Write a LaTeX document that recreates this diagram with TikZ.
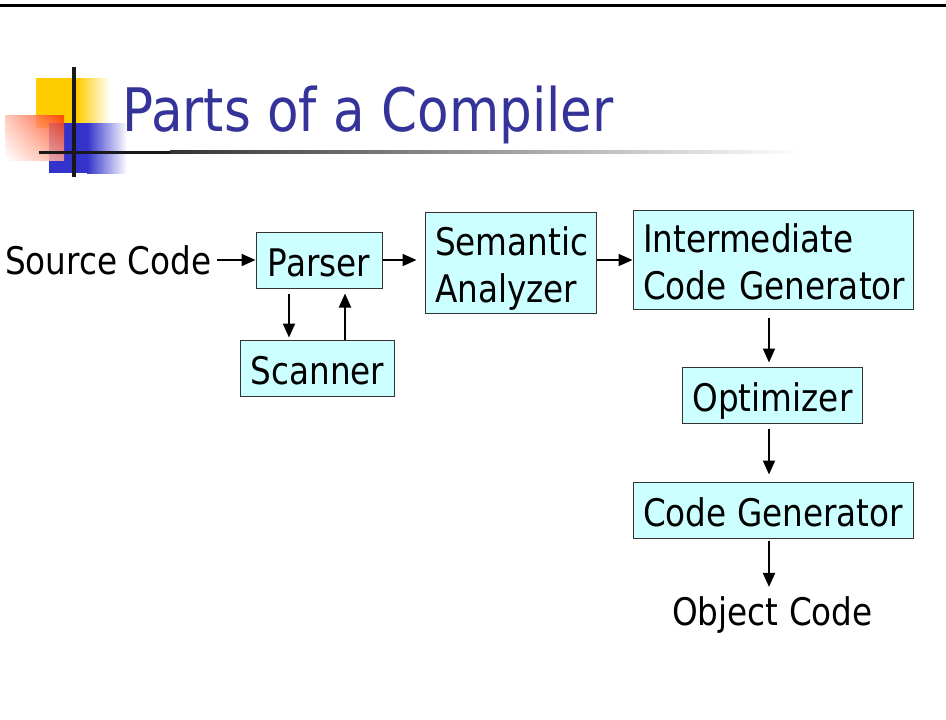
\documentclass[tikz,border=0pt]{standalone}
\usepackage{fontspec}
\setmainfont{DejaVu Sans}[FakeStretch=0.86]
\usetikzlibrary{arrows.meta,calc,shadings}
\definecolor{slidetitle}{HTML}{333399}
\definecolor{boxfill}{HTML}{CCFFFF}
\definecolor{logoyellow}{HTML}{FFCC00}
\definecolor{logoblue}{HTML}{3333CC}
\definecolor{logored}{HTML}{FF3300}

\begin{document}
\begin{tikzpicture}[x=1pt, y=-1pt,
  box/.style={draw=black!80, fill=boxfill, line width=1pt, inner xsep=10pt, inner ysep=0pt, font=\fontsize{38}{46.5}\selectfont},
  stage/.style={box, text height=32pt, text depth=0pt},
  plain/.style={inner sep=0pt, font=\fontsize{38}{46.5}\selectfont},
  flow/.style={-{Triangle[length=14pt,width=12pt]}, line width=2pt},
]
% Slide area in pixels, y downwards
\useasboundingbox (0,0) rectangle (946,720);
\fill[black] (0,4) rectangle (946,7);
% Logo squares
\fill[logoyellow] (36,78) rectangle (77,128);
\shade[left color=logoyellow, right color=white] (77,78) rectangle (110,128);
\fill[logoblue] (49,123) rectangle (87,173);
\shade[left color=logoblue, right color=white] (87,123) rectangle (127,173);
\shade[opacity=0.85, upper right=logored, upper left=logored!30, lower right=logored!45, lower left=white] (5,115) rectangle (64,160);
\fill[black!90] (72,67) rectangle (75.5,177);
\fill[black!90] (39,150.5) rectangle (170,153.5);
\shade[left color=black!80, right color=white] (170,150.5) rectangle (800,153.5);
\node[anchor=base west, inner sep=0pt, text=slidetitle, font=\fontsize{60}{72}\selectfont] (title) at (122,131) {Parts of a Compiler};

% Compiler stages
\node[plain, anchor=base east] (src) at (211.5,274) {Source Code};
\node[stage, minimum width=126pt, minimum height=56pt] (parser) at (319,260) {Parser};
\node[stage, minimum width=153pt, minimum height=56pt] (scanner) at (317.5,368) {Scanner};
\node[box, minimum width=171pt, minimum height=101pt, text width=151pt, text height=40.5pt, align=left] (semantic) at (510.5,262.5) {Semantic\\Analyzer};
\node[box, minimum width=280pt, minimum height=99pt, text width=260pt, text height=33.5pt, align=left] (inter) at (773,259.5) {Intermediate\\\mbox{Code Generator}};
\node[stage, minimum width=179pt, minimum height=56pt] (optim) at (772.5,395) {Optimizer};
\node[stage, minimum width=280pt, minimum height=56pt] (codegen) at (773,510) {Code Generator};
\node[plain, anchor=base] (object) at (772.5,625) {Object Code};

\draw[flow, shorten <=5pt] (src.east |- parser.west) -- (parser.west);
\draw[flow, shorten >=8pt] (parser.east) -- (parser.east -| semantic.west);
\draw[flow] (semantic.east |- parser.east) -- (parser.east -| inter.west);
\draw[flow, shorten <=5pt, shorten >=2pt] ([xshift=-30pt]parser.south) -- ([xshift=-30pt]parser.south |- scanner.north);
\draw[flow, shorten >=5pt] ([xshift=26pt]parser.south |- scanner.north) -- ([xshift=26pt]parser.south);
\draw[flow, shorten <=8pt, shorten >=4pt] ([xshift=-4pt]inter.south) -- ([xshift=-4pt]inter.south |- optim.north);
\draw[flow, shorten <=5pt, shorten >=7pt] ([xshift=-4pt]inter.south |- optim.south) -- ([xshift=-4pt]inter.south |- codegen.north);
\draw[flow, shorten <=2pt, shorten >=9pt] ([xshift=-4pt]inter.south |- codegen.south) -- ([xshift=-4pt]inter.south |- object.north);
\end{tikzpicture}
\end{document}
